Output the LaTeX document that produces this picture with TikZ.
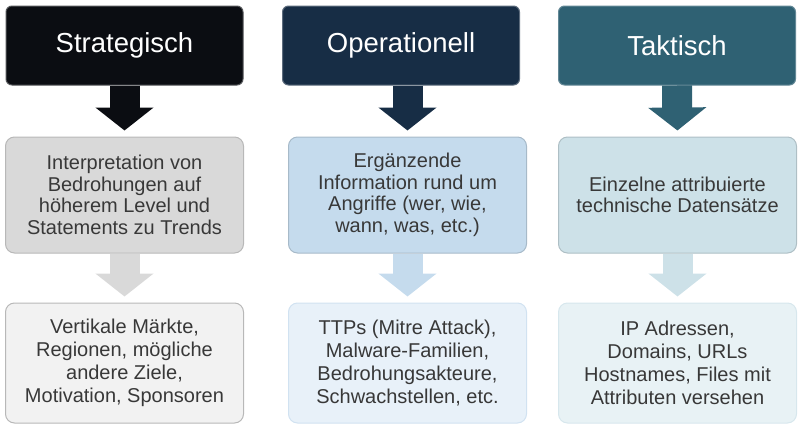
\documentclass[tikz,border=0pt]{standalone}
\usepackage{fontspec}
\setmainfont{Liberation Sans}
\usetikzlibrary{arrows.meta}
% column colours
\definecolor{stratdark}{HTML}{0B0D12}
\definecolor{operdark}{HTML}{172D45}
\definecolor{taktdark}{HTML}{2F6173}
\definecolor{stratmid}{HTML}{D9D9D9}
\definecolor{opermid}{HTML}{C5DBED}
\definecolor{taktmid}{HTML}{CDE1E8}
\definecolor{stratlight}{HTML}{F2F2F2}
\definecolor{operlight}{HTML}{E8F1F9}
\definecolor{taktlight}{HTML}{E8F2F5}
\definecolor{txtgray}{HTML}{383838}
\begin{document}
\begin{tikzpicture}[x=1pt,y=-1pt,
  headbox/.style={rectangle,rounded corners=6pt,minimum width=237pt,minimum height=79pt,
    text=white,line width=1pt,font=\fontsize{27.5}{32}\selectfont},
  infobox/.style={rectangle,rounded corners=9pt,minimum width=238pt,minimum height=116pt,
    align=center,text=txtgray,line width=1pt,font=\fontsize{20}{21.5}\selectfont},
  factbox/.style={infobox,minimum height=120pt,font=\fontsize{20}{23}\selectfont},
  flow/.style={line width=30pt,-{Triangle[width=57pt,length=23pt]},shorten >=6pt}]
\useasboundingbox (0,0) rectangle (803,431);
%top row
\node[headbox,fill=stratdark,draw=stratdark!70!white] (s1) at (124.5,45.5) {Strategisch};
\node[headbox,fill=operdark,draw=operdark!70!white] (o1) at (401,45.5) {Operationell};
\node[headbox,fill=taktdark,draw=taktdark!75!white] (t1) at (677,45.5) {Taktisch};
%middle row
\node[infobox,fill=stratmid,draw=stratmid!85!black] (s2) at (124.5,195)
  {Interpretation von\\Bedrohungen auf\\höherem Level und\\Statements zu Trends};
\node[infobox,fill=opermid,draw=opermid!85!black] (o2) at (407.5,195)
  {Ergänzende\\Information rund um\\Angriffe (wer, wie,\\wann, was, etc.)};
\node[infobox,fill=taktmid,draw=taktmid!85!black] (t2) at (677.5,195)
  {Einzelne attribuierte\\technische Datensätze};
%bottom row
\node[factbox,fill=stratlight,draw=stratmid!85!black] (s3) at (124.5,363)
  {Vertikale Märkte,\\Regionen, mögliche\\andere Ziele,\\Motivation, Sponsoren};
\node[factbox,fill=operlight,draw=opermid!80!white] (o3) at (407.5,363)
  {TTPs (Mitre Attack),\\Malware-Familien,\\Bedrohungsakteure,\\Schwachstellen, etc.};
\node[factbox,fill=taktlight,draw=taktmid!80!white] (t3) at (677.5,363)
  {IP Adressen,\\Domains, URLs\\Hostnames, Files mit\\Attributen versehen};
%block arrows
\draw[flow,stratdark] (s1.south) -- (s2.north);
\draw[flow,operdark] (o1.south -| o2.north) -- (o2.north);
\draw[flow,taktdark] (t1.south) -- (t2.north);
\draw[flow,stratmid] (s2.south) -- (s3.north);
\draw[flow,opermid] (o2.south) -- (o3.north);
\draw[flow,taktmid] (t2.south) -- (t3.north);
\end{tikzpicture}
\end{document}
